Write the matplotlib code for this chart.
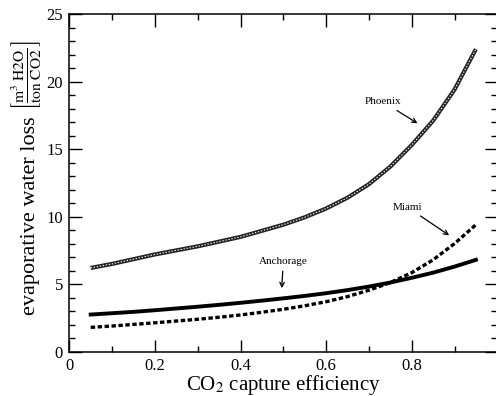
import matplotlib
matplotlib.use("Agg")
import matplotlib.pyplot as plt
from matplotlib.ticker import MultipleLocator

plt.rcParams["font.family"] = ["Liberation Serif", "DejaVu Serif"]
plt.rcParams["mathtext.fontset"] = "stix"
plt.rcParams["lines.scale_dashes"] = False

# capture efficiency
efficiency = [0.05, 0.10, 0.15, 0.20, 0.25, 0.30, 0.35, 0.40, 0.45, 0.50,
              0.55, 0.60, 0.65, 0.70, 0.75, 0.80, 0.85, 0.90, 0.95]
phoenix = [6.2, 6.5, 6.85, 7.2, 7.5, 7.8, 8.15, 8.5, 8.95, 9.4,
           9.95, 10.6, 11.4, 12.4, 13.7, 15.3, 17.1, 19.4, 22.4]
anchorage = [2.75, 2.85, 2.95, 3.07, 3.2, 3.33, 3.47, 3.62, 3.78, 3.95,
             4.13, 4.33, 4.56, 4.82, 5.12, 5.47, 5.85, 6.3, 6.8]
miami = [1.8, 1.9, 2.02, 2.14, 2.27, 2.4, 2.55, 2.72, 2.92, 3.14,
         3.4, 3.7, 4.08, 4.55, 5.12, 5.85, 6.8, 8.0, 9.4]

fig = plt.figure(figsize=(4.96, 3.96), dpi=100)
ax = fig.add_axes([69.3 / 496, 44.3 / 396, 428 / 496, 337.7 / 396])

# Phoenix: thick dark line with light speckle
ax.plot(efficiency, phoenix, color="#222222", lw=3.0, solid_capstyle="butt")
ax.plot(efficiency, phoenix, color="white", lw=0.8, dashes=(1.0, 1.2))
# Anchorage: solid
ax.plot(efficiency, anchorage, color="black", lw=2.8)
# Miami: dashed
ax.plot(efficiency, miami, color="black", lw=2.4, dashes=(3.2, 1.8))

ax.set_xlim(0, 1)
ax.set_ylim(0, 25)
ax.xaxis.set_major_locator(MultipleLocator(0.2))
ax.xaxis.set_minor_locator(MultipleLocator(0.1))
ax.yaxis.set_major_locator(MultipleLocator(5))
ax.yaxis.set_minor_locator(MultipleLocator(1))
ax.set_xticks([0, 0.2, 0.4, 0.6, 0.8])
ax.set_xticklabels(["0", "0.2", "0.4", "0.6", "0.8"])
ax.tick_params(which="both", direction="in", top=True, right=True,
               labelsize=12, width=1.0)
ax.tick_params(which="major", length=9, pad=4.5)
ax.tick_params(which="minor", length=4.5)
for s in ax.spines.values():
    s.set_linewidth(1.1)

ax.set_xlabel(r"CO$_2$ capture efficiency", fontsize=15, labelpad=-1)

# y label: words plus bracketed unit fraction
fig.text(0.062, (396 - 216) / 396, "evaporative water loss", rotation=90,
         fontsize=16, ha="center", va="center")
fig.text(0.052, (396 - 75) / 396,
         r"$\left[\frac{\mathrm{m^3\ H2O}}{\mathrm{ton\ CO2}}\right]$",
         rotation=90, fontsize=16, ha="center", va="center")

arrow = dict(arrowstyle="->", color="black", lw=0.9)
ax.annotate("Phoenix", xy=(0.819, 16.8), xytext=(0.733, 18.5), fontsize=8,
            ha="center", va="center", arrowprops=arrow)
ax.annotate("Miami", xy=(0.893, 8.5), xytext=(0.79, 10.7), fontsize=8,
            ha="center", va="center", arrowprops=arrow)
ax.annotate("Anchorage", xy=(0.496, 4.5), xytext=(0.5, 6.7), fontsize=8,
            ha="center", va="center", arrowprops=arrow)

fig.savefig("out.png", dpi=100)
